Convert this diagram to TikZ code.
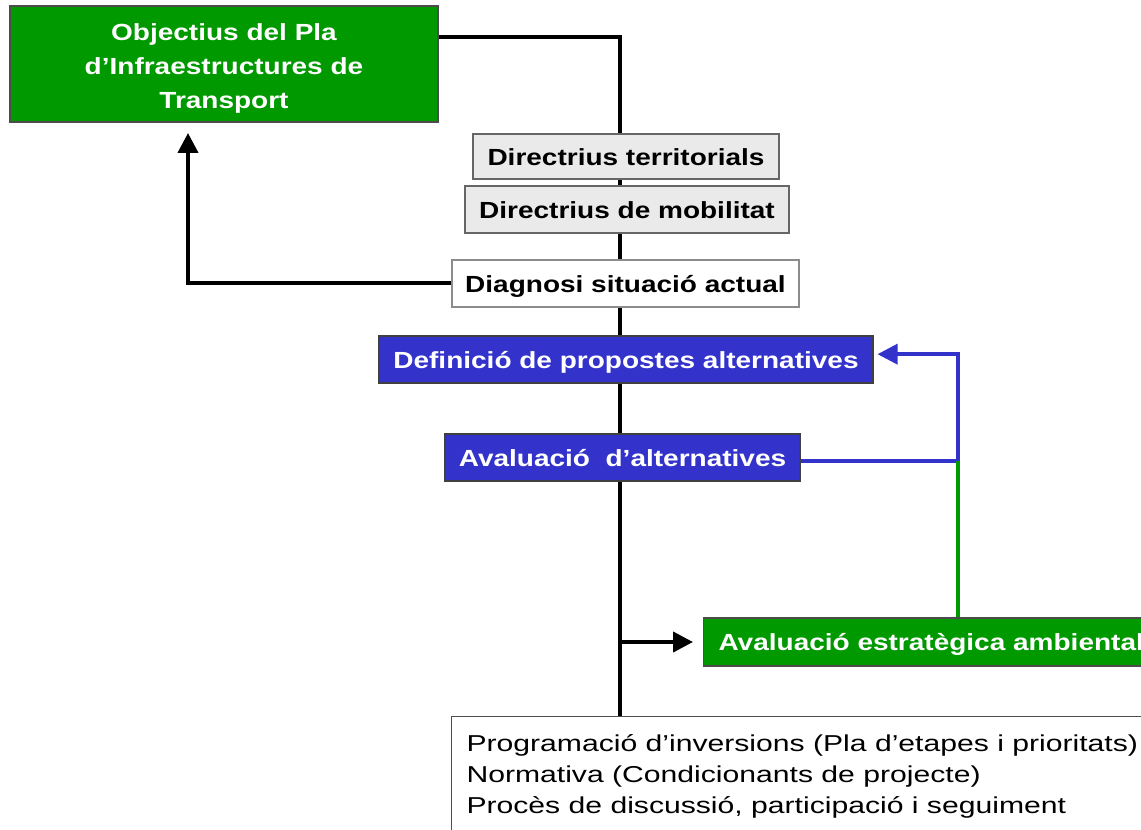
\documentclass[tikz,border=0pt]{standalone}
\usepackage{fontspec}
\setmainfont{Liberation Sans}
\newfontfamily\pitfont[FakeStretch=1.2]{Liberation Sans}
\newfontfamily\pitwide[FakeStretch=1.31]{Liberation Sans}
\usetikzlibrary{arrows.meta,backgrounds}
\definecolor{pitgreen}{HTML}{009900}
\definecolor{pitblue}{HTML}{3333CC}
\definecolor{pitgray}{HTML}{EAEAEA}
\tikzset{
 box/.style={line width=0.8pt, inner sep=0pt, align=center, text height=16pt, text depth=2.8pt,
   font=\pitfont\fontsize{17.5}{25.5}\selectfont\bfseries},
 greybox/.style={box, fill=pitgray, draw=black!60},
 whitebox/.style={box, fill=white, draw=black!45},
 bluebox/.style={box, fill=pitblue, draw=black!75, text=white},
 greenbox/.style={box, fill=pitgreen, draw=black!70, text=white},
 spine/.style={line width=3pt, black},
 blueline/.style={line width=2.6pt, pitblue},
 greenline/.style={line width=2.6pt, pitgreen},
 tip/.style={-{Triangle[length=15pt,width=15pt]}}
}
\begin{document}
\begin{tikzpicture}[x=0.75pt,y=-0.75pt]
 \useasboundingbox (0,0) rectangle (1141,830);
 \node[greenbox, minimum width=321pt, minimum height=87pt, text height=70pt, text depth=2.5pt] (obj) at (224,64)
   {Objectius del Pla\\d’Infraestructures de\\Transport};
 \node[greybox, minimum width=229.5pt, minimum height=33.75pt] (dterr) at (626,156.5) {Directrius territorials};
 \node[greybox, minimum width=243pt, minimum height=35.25pt] (dmob) at (627,209.5) {Directrius de mobilitat};
 \node[whitebox, minimum width=260.25pt, minimum height=35.25pt] (diag) at (625.5,283.5) {Diagnosi situació actual};
 \node[bluebox, minimum width=370.5pt, minimum height=35.25pt] (defprop) at (626,359.5) {Definició de propostes alternatives};
 \node[bluebox, minimum width=266.25pt, minimum height=35.25pt] (avalt) at (622.5,457.5) {Avaluació~ d’alternatives};
 \node[greenbox, anchor=west, inner xsep=11.25pt, minimum height=36pt] (eae) at (703,642) {Avaluació estratègica ambiental};
 \node[draw=black!70, line width=0.8pt, anchor=north west, inner xsep=11.25pt, inner ysep=0pt, align=left,
   text height=72.75pt, text depth=14pt, font=\pitwide\fontsize{17.25}{23.25}\selectfont] (prog) at (451,716)
   {Programació d’inversions (Pla d’etapes i prioritats)\\Normativa (Condicionants de projecte)\\Procès de discussió, participació i seguiment};
 \coordinate (ttop) at (620,37);
 \coordinate (objin) at (188,133);
 \coordinate (knot) at (958,461);
 \begin{scope}[on background layer]
  \fill[white] (0,0) rectangle (1141,830);
  \draw[spine] (obj.east |- ttop) -- (ttop) -- (ttop |- prog.north);
  \draw[spine, tip] (diag.west) -| (objin);
  \draw[spine, tip] (ttop |- eae.west) -- ([xshift=-7.5pt]eae.west);
  \draw[blueline, tip] (avalt.east |- knot) -- (knot) |- ([xshift=3pt,yshift=4pt]defprop.east);
  \draw[greenline] (knot) -- (knot |- eae.north);
 \end{scope}
\end{tikzpicture}
\end{document}
